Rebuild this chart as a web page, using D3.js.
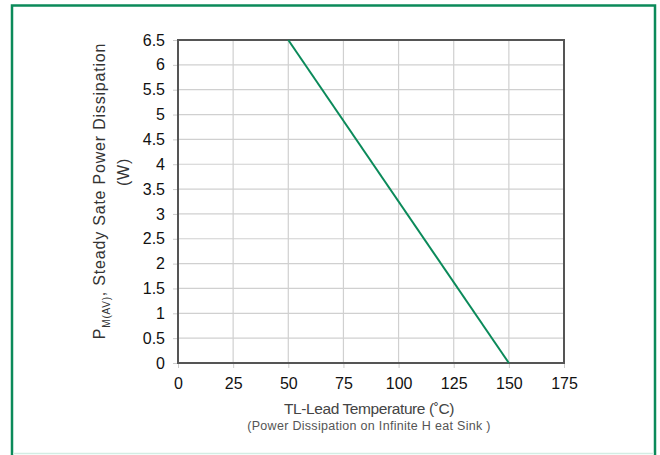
<!DOCTYPE html>
<html>
<head>
<meta charset="utf-8">
<script src="https://cdn.jsdelivr.net/npm/d3@7"></script>
<style>
  body { margin: 0; background: #fff; }
  text { font-family: "Liberation Sans", Arial, sans-serif; }
</style>
</head>
<body>
<div class="chart"></div>
<script>
const width = 660;
const height = 455;

// data: derating curve (lead temperature vs power)
const tempC = [50, 150];
const powerW = [6.5, 0];
const xTicks = [0, 25, 50, 75, 100, 125, 150, 175];
const yTicks = [0, 0.5, 1, 1.5, 2, 2.5, 3, 3.5, 4, 4.5, 5, 5.5, 6, 6.5];

const m = {left: 178, top: 40, right: 564, bottom: 363};

const svg = d3.select(".chart")
    .append("svg")
    .attr("width", width)
    .attr("height", height);

// outer green frame
svg.append("rect")
    .attr("x", 12).attr("y", 5.5)
    .attr("width", 643).attr("height", 460)
    .attr("fill", "none")
    .attr("stroke", "#0b8a5a")
    .attr("stroke-width", 2.5);
svg.append("line")
    .attr("x1", 13).attr("x2", 654)
    .attr("y1", 453.5).attr("y2", 453.5)
    .attr("stroke", "#d3ede4").attr("stroke-width", 1.5);

const x = d3.scaleLinear().domain([0, 175]).range([m.left, m.right]);
const y = d3.scaleLinear().domain([0, 6.5]).range([m.bottom, m.top]);

// grid
svg.append("g")
    .selectAll("line")
    .data(xTicks.slice(1, -1))
    .join("line")
    .attr("x1", d => x(d)).attr("x2", d => x(d))
    .attr("y1", m.top).attr("y2", m.bottom)
    .attr("stroke", "#d0d0d0").attr("stroke-width", 1.2);
svg.append("g")
    .selectAll("line")
    .data(yTicks.slice(1, -1))
    .join("line")
    .attr("x1", m.left).attr("x2", m.right)
    .attr("y1", d => y(d)).attr("y2", d => y(d))
    .attr("stroke", "#d0d0d0").attr("stroke-width", 1.2);

// axes
const xAxis = svg.append("g")
    .attr("transform", `translate(0,${m.bottom})`)
    .call(d3.axisBottom(x).tickValues(xTicks).tickSize(5).tickPadding(10).tickSizeOuter(0));
xAxis.select(".domain").remove();
xAxis.selectAll(".tick line").attr("stroke", "#ccc");
xAxis.selectAll(".tick text").attr("font-size", 16).attr("fill", "#111")
    .attr("font-family", "Liberation Sans, Arial, sans-serif");

const yAxis = svg.append("g")
    .attr("transform", `translate(${m.left},0)`)
    .call(d3.axisLeft(y).tickValues(yTicks).tickFormat(d => String(d))
        .tickSize(5).tickPadding(8).tickSizeOuter(0));
yAxis.select(".domain").remove();
yAxis.selectAll(".tick line").attr("stroke", "#ccc");
yAxis.selectAll(".tick text").attr("font-size", 16).attr("fill", "#111")
    .attr("font-family", "Liberation Sans, Arial, sans-serif");

// plot border
svg.append("rect")
    .attr("x", m.left).attr("y", m.top)
    .attr("width", m.right - m.left).attr("height", m.bottom - m.top)
    .attr("fill", "none")
    .attr("stroke", "#555")
    .attr("stroke-width", 2);

// derating line
const line = d3.line()
    .x((d, i) => x(tempC[i]))
    .y(d => y(d));
svg.append("path")
    .datum(powerW)
    .attr("d", line)
    .attr("fill", "none")
    .attr("stroke", "#0b8a5a")
    .attr("stroke-width", 2);

// axis titles
svg.append("text")
    .attr("x", (m.left + m.right) / 2 - 2).attr("y", 414)
    .attr("text-anchor", "middle")
    .attr("font-size", 15.5).attr("letter-spacing", -0.4).attr("fill", "#444")
    .text("TL-Lead Temperature (˚C)");
svg.append("text")
    .attr("x", (m.left + m.right) / 2 - 2).attr("y", 430)
    .attr("text-anchor", "middle")
    .attr("font-size", 12.5).attr("letter-spacing", 0.3).attr("fill", "#555")
    .text("(Power Dissipation on Infinite H eat Sink )");

const yt = svg.append("text")
    .attr("transform", "translate(105,191) rotate(-90)")
    .attr("text-anchor", "middle")
    .attr("font-size", 16).attr("letter-spacing", 0.8).attr("fill", "#333");
yt.append("tspan").text("P");
yt.append("tspan").attr("font-size", 10).attr("dy", 5).text("M(AV)");
yt.append("tspan").attr("dy", -5).text(", Steady Sate Power Dissipation");
svg.append("text")
    .attr("transform", "translate(129,172) rotate(-90)")
    .attr("text-anchor", "middle")
    .attr("font-size", 16).attr("letter-spacing", 0.8).attr("fill", "#333")
    .text("(W)");
</script>
</body>
</html>
